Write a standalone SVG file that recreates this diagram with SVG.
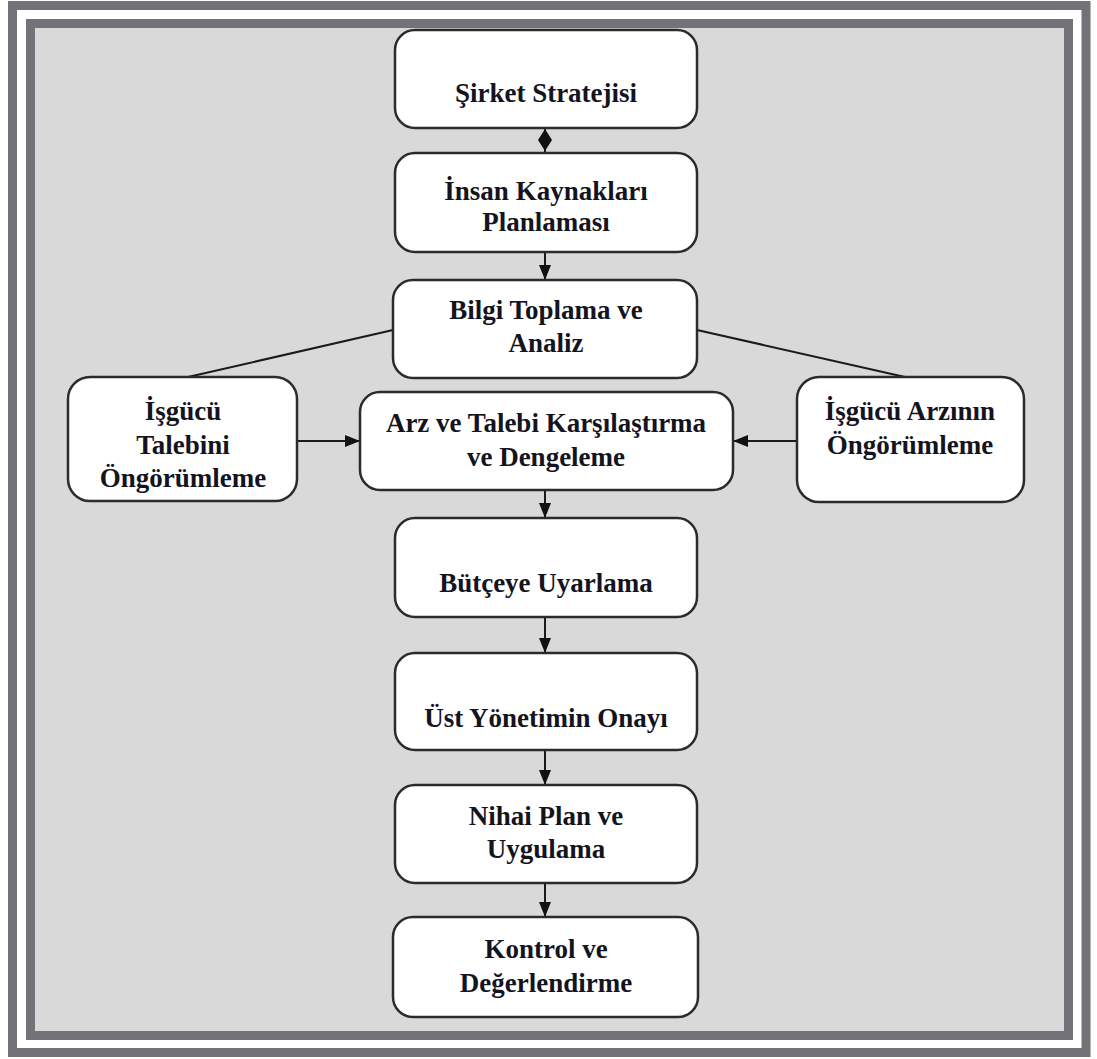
<svg xmlns="http://www.w3.org/2000/svg" width="1097" height="1059" viewBox="0 0 1097 1059">
<defs>
<style>
.box{fill:#fff;stroke:#2b2b2b;stroke-width:2.5}
.t{font-family:"Liberation Serif","Times New Roman",serif;font-weight:bold;font-size:27px;fill:#14141e;text-anchor:middle}
.c{stroke:#1a1a1a;stroke-width:2;fill:none}
</style>
<marker id="ah" viewBox="0 0 15 12" refX="15" refY="6" markerWidth="15" markerHeight="12" markerUnits="userSpaceOnUse" orient="auto">
<path d="M0,0 L15,6 L0,12 Z" fill="#111"/>
</marker>
</defs>
<rect x="0" y="0" width="1097" height="1059" fill="#fff"/>
<rect x="12.5" y="5.5" width="1073.5" height="1047" fill="none" stroke="#737278" stroke-width="9"/>
<rect x="30.5" y="23.5" width="1038" height="1012" fill="#d9d9d9" stroke="#737278" stroke-width="9"/>

<g id="connectors">
<line class="c" x1="545" y1="128" x2="545" y2="153"/>
<polygon points="545,129 552,140 545,151 538,140" fill="#111"/>
<line class="c" x1="545" y1="252" x2="545" y2="280" marker-end="url(#ah)"/>
<line class="c" x1="393" y1="330" x2="188" y2="377"/>
<line class="c" x1="697" y1="330" x2="905" y2="377"/>
<line class="c" x1="297" y1="441" x2="360" y2="441" marker-end="url(#ah)"/>
<line class="c" x1="797" y1="441" x2="733" y2="441" marker-end="url(#ah)"/>
<line class="c" x1="545" y1="490" x2="545" y2="518" marker-end="url(#ah)"/>
<line class="c" x1="545" y1="617" x2="545" y2="653" marker-end="url(#ah)"/>
<line class="c" x1="545" y1="750" x2="545" y2="785" marker-end="url(#ah)"/>
<line class="c" x1="545" y1="883" x2="545" y2="917" marker-end="url(#ah)"/>
</g>

<g id="n1"><rect class="box" x="395" y="30" width="302" height="98" rx="20"/>
<text class="t" x="546" y="102">Şirket Stratejisi</text></g>

<g id="n2"><rect class="box" x="395" y="153" width="302" height="99" rx="20"/>
<text class="t" x="546" y="200">İnsan Kaynakları</text>
<text class="t" x="546" y="231">Planlaması</text></g>

<g id="n3"><rect class="box" x="393" y="280" width="304" height="98" rx="20"/>
<text class="t" x="546" y="319">Bilgi Toplama ve</text>
<text class="t" x="546" y="352">Analiz</text></g>

<g id="n4"><rect class="box" x="360" y="392" width="373" height="98" rx="20"/>
<text class="t" x="546" y="432">Arz ve Talebi Karşılaştırma</text>
<text class="t" x="546" y="466">ve Dengeleme</text></g>

<g id="n5"><rect class="box" x="68" y="377" width="229" height="124" rx="22"/>
<text class="t" x="183" y="420">İşgücü</text>
<text class="t" x="183" y="454">Talebini</text>
<text class="t" x="183" y="487">Öngörümleme</text></g>

<g id="n6"><rect class="box" x="797" y="377" width="227" height="125" rx="22"/>
<text class="t" x="910" y="420">İşgücü Arzının</text>
<text class="t" x="910" y="454">Öngörümleme</text></g>

<g id="n7"><rect class="box" x="395" y="518" width="302" height="99" rx="20"/>
<text class="t" x="546" y="592">Bütçeye Uyarlama</text></g>

<g id="n8"><rect class="box" x="395" y="653" width="302" height="97" rx="20"/>
<text class="t" x="546" y="727">Üst Yönetimin Onayı</text></g>

<g id="n9"><rect class="box" x="395" y="785" width="302" height="98" rx="20"/>
<text class="t" x="546" y="825">Nihai Plan ve</text>
<text class="t" x="546" y="858">Uygulama</text></g>

<g id="n10"><rect class="box" x="393" y="917" width="305" height="100" rx="20"/>
<text class="t" x="546" y="958">Kontrol ve</text>
<text class="t" x="546" y="992">Değerlendirme</text></g>
</svg>
